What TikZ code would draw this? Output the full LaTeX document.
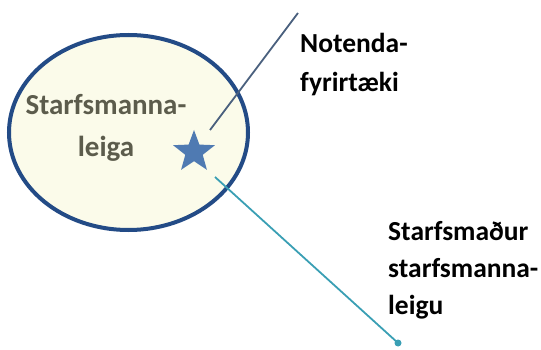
\documentclass[tikz,border=0pt]{standalone}
\usepackage{fontspec}
\setmainfont{Carlito}
\usetikzlibrary{shapes.geometric}
\definecolor{ringblue}{HTML}{234B86}
\definecolor{cream}{HTML}{FBFBEA}
\definecolor{starblue}{HTML}{4F7AB2}
\definecolor{graytext}{HTML}{5C5C4C}
\definecolor{upline}{HTML}{4A607E}
\definecolor{lowline}{HTML}{3A9FB4}
\tikzset{
  lbl/.style={font=\bfseries\fontsize{27.5}{33}\selectfont, inner sep=0pt, anchor=base west},
  inlbl/.style={font=\bfseries\fontsize{29}{35}\selectfont, inner sep=0pt, anchor=base, text=graytext},
  conn/.style={line width=1.8pt},
}
\begin{document}
\begin{tikzpicture}[x=1pt,y=-1pt]
\useasboundingbox (0,0) rectangle (541,350);
\node[ellipse, draw=ringblue, fill=cream, line width=4pt, minimum width=239pt, minimum height=195pt, inner sep=0pt] (agency) at (128.5,132.5) {};
\node[star, star points=5, star point ratio=2.4, fill=starblue, minimum size=44pt, inner sep=0pt] (star) at (194,152) {};
\coordinate (upA) at (210,130);
\coordinate (upB) at (298,13);
\coordinate (lowA) at (215,177);
\node[circle, fill=lowline, minimum size=7pt, inner sep=0pt] (dot) at (398,343) {};
\draw[conn, upline] (upA) -- (upB);
\draw[conn, lowline] (lowA) -- (dot.center);
\node[inlbl] (t1) at (106,115) {Starfsmanna-};
\node[inlbl] (t2) at (106,157) {leiga};
\node[lbl] (n1) at (300,53) {Notenda-};
\node[lbl] (n2) at (300,92) {fyrirtæki};
\node[lbl] (s1) at (388,240) {Starfsmaður};
\node[lbl] (s2) at (388,277) {starfsmanna-};
\node[lbl] (s3) at (388,314) {leigu};
\end{tikzpicture}
\end{document}
